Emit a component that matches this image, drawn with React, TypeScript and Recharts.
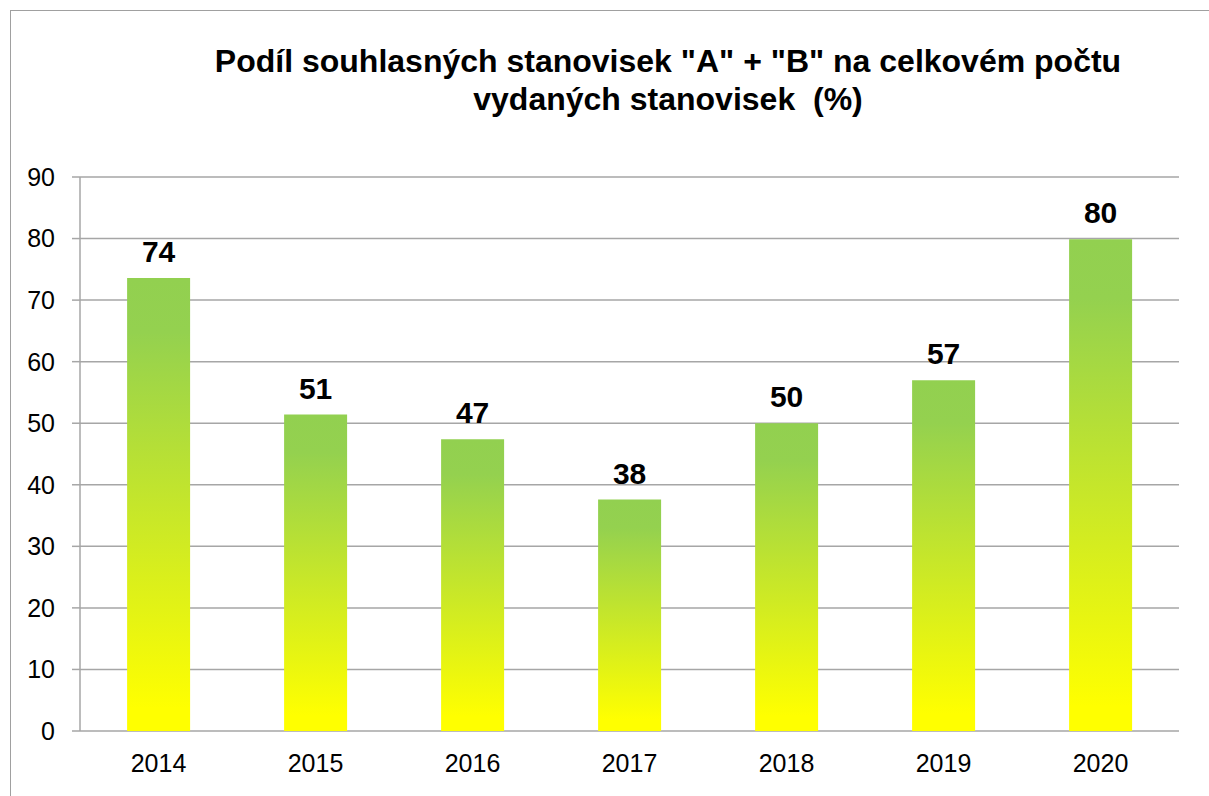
import { BarChart, Bar, XAxis, YAxis, CartesianGrid, LabelList } from "recharts";

const years = ["2014", "2015", "2016", "2017", "2018", "2019", "2020"];
const shares = [73.6, 51.4, 47.4, 37.6, 50.0, 57.0, 79.9];
const yTicks = [0, 10, 20, 30, 40, 50, 60, 70, 80, 90];
const edgeTicks = [0, 1, 2, 3, 4, 5, 6, 7];

const titleLines = [
  'Podíl souhlasných stanovisek "A" + "B" na celkovém počtu',
  "vydaných stanovisek  (%)",
];

const data = years.map((year, i) => ({ year, value: shares[i] }));

const FONT = '"Liberation Sans", Arial, sans-serif';
const GRID = "#a6a6a6";

export default function App() {
  return (
    <div
      style={{
        position: "absolute",
        left: 10,
        top: 10,
        width: 1199,
        height: 786,
        borderTop: "1px solid #a0a0a0",
        borderLeft: "1px solid #a0a0a0",
        boxSizing: "border-box",
        background: "#fff",
        fontFamily: FONT,
        overflow: "hidden",
      }}
    >
      <div
        style={{
          position: "absolute",
          left: 0,
          width: 1314,
          top: 31,
          textAlign: "center",
          fontWeight: "bold",
          fontSize: 32,
          lineHeight: "38px",
          color: "#000",
          whiteSpace: "pre",
        }}
      >
        {titleLines.map((t) => (
          <div key={t}>{t}</div>
        ))}
      </div>
      <div style={{ position: "absolute", left: -1, top: -1 }}>
        <BarChart
          width={1199}
          height={786}
          data={data}
          margin={{ top: 167, right: 30, bottom: 25, left: 10 }}
          barCategoryGap="30%"
        >
          <defs>
            <linearGradient id="barFill" x1="0" y1="0" x2="0" y2="1">
              <stop offset="0" stopColor="#92D050" />
              <stop offset="0.12" stopColor="#94D14F" />
              <stop offset="0.95" stopColor="#FFFF00" />
              <stop offset="1" stopColor="#FFFF00" />
            </linearGradient>
          </defs>
          <CartesianGrid
            vertical={false}
            stroke={GRID}
            strokeWidth={1.5}
            xAxisId="cat"
          />
          <XAxis
            xAxisId="edges"
            type="number"
            domain={[0, 7]}
            ticks={edgeTicks}
            tick={false}
            tickSize={8}
            height={0}
            stroke={GRID}
            strokeWidth={1.5}
          />
          <XAxis
            xAxisId="cat"
            dataKey="year"
            axisLine={false}
            tickLine={false}
            height={40}
            tickMargin={17}
            tick={{ fill: "#000", fontSize: 25, fontFamily: FONT }}
          />
          <YAxis
            width={60}
            domain={[0, 90]}
            ticks={yTicks}
            tickSize={8}
            tickMargin={17}
            stroke={GRID}
            strokeWidth={1.5}
            tick={{ fill: "#000", fontSize: 25, fontFamily: FONT }}
          />
          <Bar
            xAxisId="cat"
            dataKey="value"
            fill="url(#barFill)"
            isAnimationActive={false}
          >
            <LabelList
              dataKey="value"
              position="top"
              offset={16}
              formatter={(v: any) => Math.round(Number(v))}
              style={{ fill: "#000", fontSize: 30, fontWeight: "bold", fontFamily: FONT }}
            />
          </Bar>
        </BarChart>
      </div>
    </div>
  );
}
